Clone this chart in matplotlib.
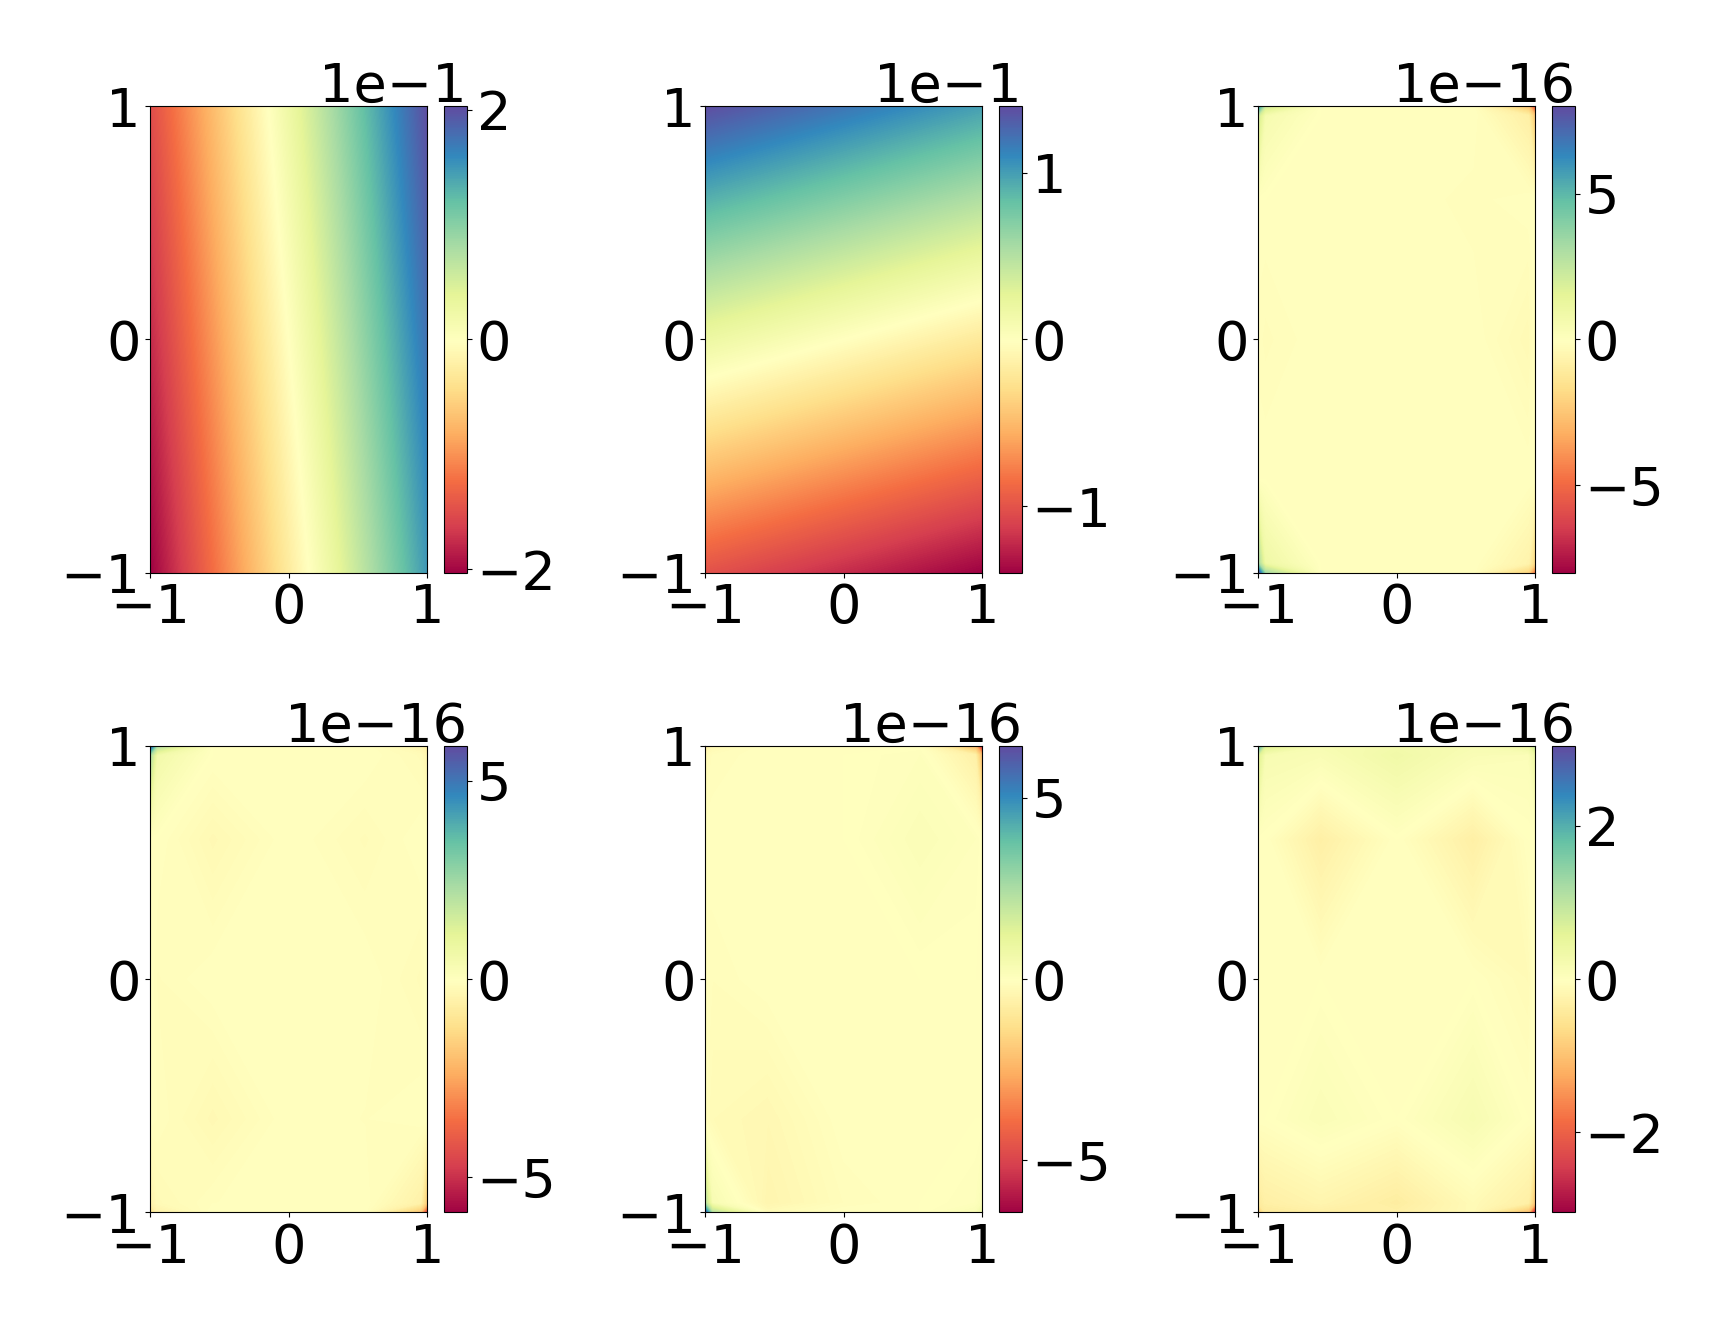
import numpy as np
import matplotlib
matplotlib.use("Agg")
import matplotlib.pyplot as plt
from matplotlib.ticker import ScalarFormatter

plt.rcParams['font.family'] = 'DejaVu Sans'
plt.rcParams['font.size'] = 39

# Node coordinates of the sampled fields
coarse_x = [-1.0, 0.0, 1.0]
coarse_y = [-1.0, 0.0, 1.0]
fine_x = [-1.0, -0.95, -0.55, 0.0, 0.55, 0.95, 1.0]
fine_y = [-1.0, -0.96, -0.6, 0.0, 0.6, 0.96, 1.0]

# Rows go from y = -1 (bottom) to y = 1 (top)
field_u = [
    [-0.203, -0.026, 0.150],
    [-0.176, 0.000, 0.176],
    [-0.150, 0.026, 0.203],
]
field_v = [
    [-0.100, -0.120, -0.1397],
    [0.020, 0.000, -0.020],
    [0.1397, 0.120, 0.100],
]

# residual fields, in units of 1e-16
NOISE_UNIT = 1e-16
resid_a = [
    [8.0, 3.2, 0.0, 0.0, 0.0, -2.0, -5.0],
    [3.2, 1.0, 0.0, 0.0, 0.0, -0.6, -2.0],
    [0.0, 0.0, 0.0, 0.0, -0.05, 0.0, 0.0],
    [-0.1, -0.15, 0.0, 0.0, 0.0, -0.3, -0.1],
    [0.0, 0.0, 0.0, 0.0, -0.1, 0.0, 0.0],
    [2.2, 0.6, 0.0, 0.0, 0.0, -0.8, -2.6],
    [6.0, 2.2, 0.0, 0.0, 0.0, -2.6, -6.5],
]
resid_b = [
    [-1.2, -0.5, 0.0, 0.0, 0.0, -1.8, -5.0],
    [-0.5, -0.2, -0.05, 0.0, 0.0, -0.5, -1.8],
    [0.0, -0.05, -0.25, 0.0, -0.05, 0.0, 0.0],
    [0.0, -0.1, 0.0, 0.0, 0.0, -0.15, 0.0],
    [0.0, 0.0, -0.25, 0.0, -0.15, 0.0, 0.0],
    [2.2, 0.6, 0.0, 0.0, 0.0, -0.15, -0.4],
    [5.88, 2.2, 0.0, 0.0, 0.0, -0.4, -0.8],
]
resid_c = [
    [6.0, 2.2, -0.2, 0.0, 0.0, 0.3, 0.8],
    [2.2, 0.4, -0.4, -0.1, 0.0, 0.1, 0.3],
    [-0.1, -0.2, -0.3, 0.0, 0.0, 0.0, 0.0],
    [-0.1, -0.1, 0.0, 0.0, 0.0, 0.0, 0.0],
    [0.0, 0.0, 0.0, 0.0, 0.25, 0.1, 0.0],
    [-0.3, -0.1, 0.0, 0.0, 0.1, -0.6, -2.4],
    [-1.0, -0.3, 0.0, 0.0, 0.0, -2.4, -6.43],
]
resid_d = [
    [-1.0, -0.4, -0.3, -0.3, -0.1, -1.0, -3.04],
    [-0.4, -0.3, -0.2, -0.35, -0.1, -0.3, -1.0],
    [0.0, 0.0, 0.12, 0.0, 0.2, 0.0, 0.0],
    [0.0, 0.0, 0.0, 0.0, 0.0, -0.1, 0.0],
    [0.0, 0.0, -0.3, 0.0, -0.3, 0.0, 0.0],
    [0.7, 0.2, 0.15, 0.35, 0.15, 0.1, 0.4],
    [2.0, 0.7, 0.2, 0.3, 0.2, 0.4, 1.0],
]

axis_ticks = [-1, 0, 1]
cbar_ticks = [
    [-0.2, 0.0, 0.2],
    [-0.1, 0.0, 0.1],
    [-5e-16, 0.0, 5e-16],
    [-5e-16, 0.0, 5e-16],
    [-5e-16, 0.0, 5e-16],
    [-2e-16, 0.0, 2e-16],
]

panels = [
    (coarse_x, coarse_y, np.array(field_u)),
    (coarse_x, coarse_y, np.array(field_v)),
    (fine_x, fine_y, np.array(resid_a) * NOISE_UNIT),
    (fine_x, fine_y, np.array(resid_b) * NOISE_UNIT),
    (fine_x, fine_y, np.array(resid_c) * NOISE_UNIT),
    (fine_x, fine_y, np.array(resid_d) * NOISE_UNIT),
]

fig = plt.figure(figsize=(17.2, 13.36), dpi=100)

col_left = [0.0874, 0.4101, 0.7316]
row_bottom = [0.5714, 0.0927]
ax_w, ax_h = 0.161, 0.349
cb_gap, cb_w = 0.0096, 0.0135

for i, (xs, ys, vals) in enumerate(panels):
    r, c = divmod(i, 3)
    ax = fig.add_axes([col_left[c], row_bottom[r], ax_w, ax_h])
    cax = fig.add_axes([col_left[c] + ax_w + cb_gap, row_bottom[r], cb_w, ax_h])

    lim = np.abs(vals).max()
    # many filled levels -> smooth field, interpolated in data space
    levels = np.linspace(-lim, lim, 257)
    cs = ax.contourf(xs, ys, vals, levels=levels, cmap='Spectral',
                     vmin=-lim, vmax=lim, antialiased=False)
    ax.set_xlim(-1, 1)
    ax.set_ylim(-1, 1)
    ax.set_xticks(axis_ticks)
    ax.set_yticks(axis_ticks)

    cb = fig.colorbar(cs, cax=cax)
    cb.solids.set_edgecolor('face')
    fmt = ScalarFormatter()
    fmt.set_powerlimits((0, 0))
    cb.formatter = fmt
    cb.set_ticks(cbar_ticks[i])
    cb.update_ticks()

fig.savefig("out.png", dpi=100)
